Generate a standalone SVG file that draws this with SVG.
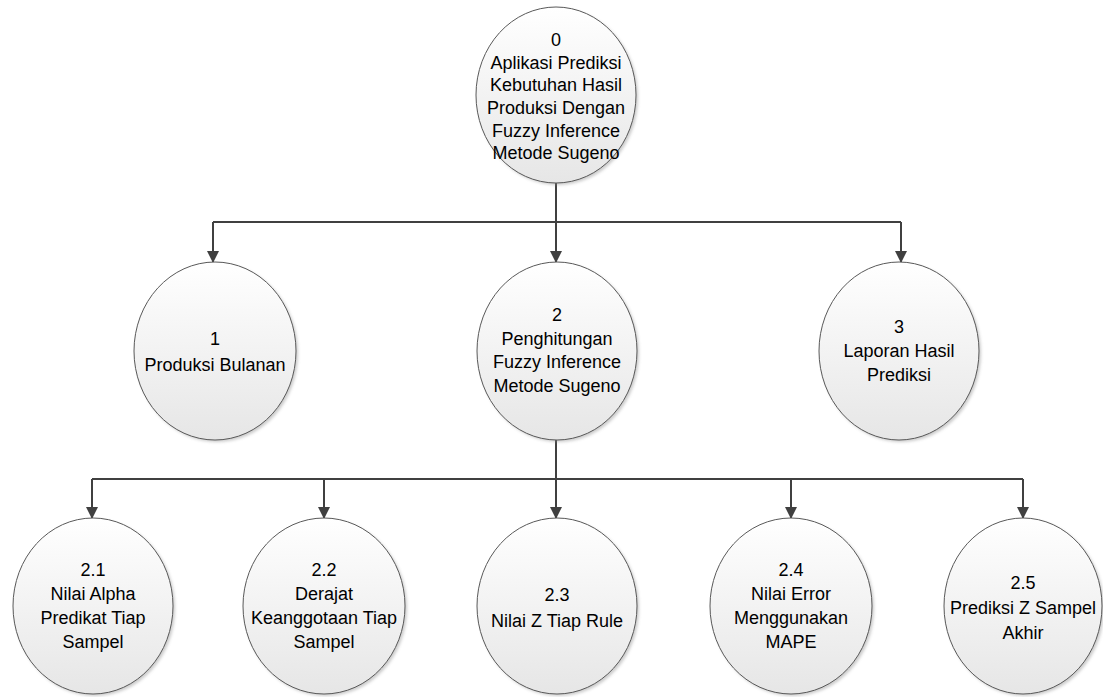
<svg xmlns="http://www.w3.org/2000/svg" width="1103" height="697" viewBox="0 0 1103 697">
<defs>
<linearGradient id="g" x1="0" y1="0" x2="0" y2="1">
<stop offset="0" stop-color="#ffffff"/>
<stop offset="1" stop-color="#e6e6e6"/>
</linearGradient>
<filter id="sh" x="-20%" y="-20%" width="140%" height="140%">
<feGaussianBlur stdDeviation="1.5"/>
</filter>
<marker id="arr" markerWidth="12" markerHeight="12" refX="11" refY="6" orient="auto" markerUnits="userSpaceOnUse">
<path d="M0,0 L12,6 L0,12 Z" fill="#404040"/>
</marker>
</defs>
<style>
.node ellipse.b{fill:url(#g);stroke:#595959;stroke-width:1}
.node ellipse.s{fill:#8c8c8c;opacity:0.45;filter:url(#sh)}
.node text{font-family:"Liberation Sans",Arial,sans-serif;font-size:18px;fill:#000;text-anchor:middle}
.conn path{fill:none;stroke:#404040;stroke-width:2}
</style>
<g id="connectors" class="conn">
<path d="M556,183 V222"/>
<path d="M213,222 H901"/>
<path d="M213,222 V262" marker-end="url(#arr)"/>
<path d="M556,222 V262" marker-end="url(#arr)"/>
<path d="M901,222 V262" marker-end="url(#arr)"/>
<path d="M556,440 V479"/>
<path d="M92,479 H1023"/>
<path d="M92,479 V518" marker-end="url(#arr)"/>
<path d="M324,479 V518" marker-end="url(#arr)"/>
<path d="M556,479 V518" marker-end="url(#arr)"/>
<path d="M791,479 V518" marker-end="url(#arr)"/>
<path d="M1023,479 V518" marker-end="url(#arr)"/>
</g>
<g id="node0" class="node">
<ellipse class="s" cx="558" cy="97" rx="80" ry="88"/>
<ellipse class="b" cx="556" cy="95" rx="80" ry="88"/>
<text x="556" y="46">0</text>
<text x="556" y="69">Aplikasi Prediksi</text>
<text x="556" y="91">Kebutuhan Hasil</text>
<text x="556" y="114">Produksi Dengan</text>
<text x="556" y="137">Fuzzy Inference</text>
<text x="556" y="159">Metode Sugeno</text>
</g>
<g id="node1" class="node">
<ellipse class="s" cx="217" cy="353" rx="81" ry="89"/>
<ellipse class="b" cx="215" cy="351" rx="81" ry="89"/>
<text x="215" y="345">1</text>
<text x="215" y="371">Produksi Bulanan</text>
</g>
<g id="node2" class="node">
<ellipse class="s" cx="559" cy="353" rx="80" ry="89"/>
<ellipse class="b" cx="557" cy="351" rx="80" ry="89"/>
<text x="557" y="321">2</text>
<text x="557" y="345">Penghitungan</text>
<text x="557" y="368">Fuzzy Inference</text>
<text x="557" y="392">Metode Sugeno</text>
</g>
<g id="node3" class="node">
<ellipse class="s" cx="901" cy="353" rx="80" ry="89"/>
<ellipse class="b" cx="899" cy="351" rx="80" ry="89"/>
<text x="899" y="333">3</text>
<text x="899" y="357">Laporan Hasil</text>
<text x="899" y="381">Prediksi</text>
</g>
<g id="node21" class="node">
<ellipse class="s" cx="95" cy="608" rx="80" ry="88"/>
<ellipse class="b" cx="93" cy="606" rx="80" ry="88"/>
<text x="93" y="576">2.1</text>
<text x="93" y="600">Nilai Alpha</text>
<text x="93" y="624">Predikat Tiap</text>
<text x="93" y="648">Sampel</text>
</g>
<g id="node22" class="node">
<ellipse class="s" cx="326" cy="608" rx="81" ry="88"/>
<ellipse class="b" cx="324" cy="606" rx="81" ry="88"/>
<text x="324" y="576">2.2</text>
<text x="324" y="600">Derajat</text>
<text x="324" y="624">Keanggotaan Tiap</text>
<text x="324" y="648">Sampel</text>
</g>
<g id="node23" class="node">
<ellipse class="s" cx="559" cy="608" rx="80" ry="88"/>
<ellipse class="b" cx="557" cy="606" rx="80" ry="88"/>
<text x="557" y="601">2.3</text>
<text x="557" y="627">Nilai Z Tiap Rule</text>
</g>
<g id="node24" class="node">
<ellipse class="s" cx="793" cy="608" rx="81" ry="88"/>
<ellipse class="b" cx="791" cy="606" rx="81" ry="88"/>
<text x="791" y="576">2.4</text>
<text x="791" y="600">Nilai Error</text>
<text x="791" y="624">Menggunakan</text>
<text x="791" y="648">MAPE</text>
</g>
<g id="node25" class="node">
<ellipse class="s" cx="1025" cy="608" rx="79" ry="88"/>
<ellipse class="b" cx="1023" cy="606" rx="79" ry="88"/>
<text x="1023" y="589">2.5</text>
<text x="1023" y="614">Prediksi Z Sampel</text>
<text x="1023" y="639">Akhir</text>
</g>
</svg>
